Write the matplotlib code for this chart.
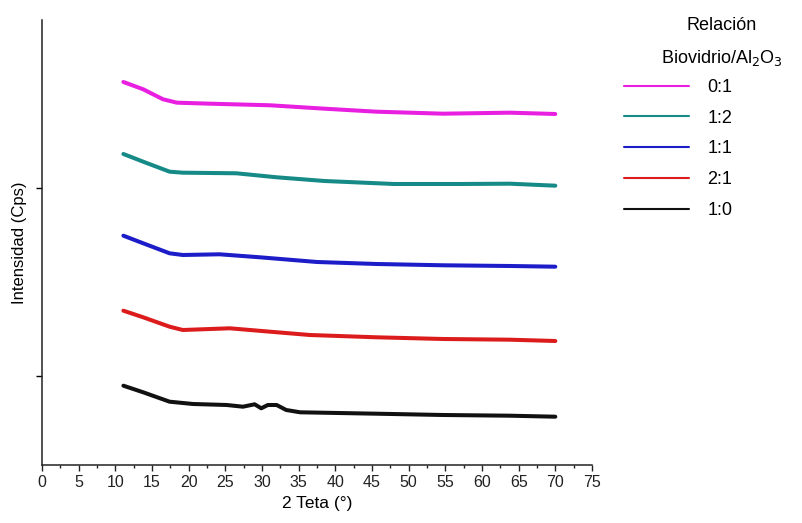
import numpy as np
import matplotlib
matplotlib.use("Agg")
import matplotlib.pyplot as plt
from matplotlib.ticker import MultipleLocator

plt.rcParams['font.family'] = ['Liberation Sans', 'DejaVu Sans']

# 2 theta (deg) / intensity (arb. counts, stacked) for each Biovidrio/Al2O3 ratio
x_01 = [11.1, 13.8, 16.5, 18.4, 22.9, 31.1, 38.5, 45.6, 54.7, 63.8, 70.0]
y_01 = [3830, 3757, 3657, 3623, 3613, 3597, 3563, 3533, 3513, 3523, 3510]

x_12 = [11.1, 13.8, 17.4, 19.2, 26.5, 32.0, 38.5, 48.0, 57.0, 63.8, 70.0]
y_12 = [3110, 3033, 2933, 2923, 2917, 2877, 2840, 2810, 2810, 2813, 2793]

x_11 = [11.1, 13.8, 17.4, 19.2, 24.2, 29.7, 37.5, 45.6, 54.7, 63.8, 70.0]
y_11 = [2293, 2217, 2117, 2100, 2107, 2077, 2030, 2010, 1997, 1990, 1983]

x_21 = [11.1, 13.8, 17.4, 19.2, 25.6, 31.1, 36.5, 45.6, 54.7, 63.8, 70.0]
y_21 = [1543, 1477, 1383, 1350, 1367, 1333, 1300, 1277, 1260, 1253, 1240]

x_10 = [11.1, 13.8, 17.4, 20.6, 25.2, 27.4, 29.0, 29.9, 30.8, 32.0, 33.3, 35.2,
        45.6, 54.7, 63.8, 70.0]
y_10 = [793, 727, 633, 610, 600, 583, 607, 567, 600, 600, 550, 527,
        513, 500, 493, 483]

labels = ["0:1", "1:2", "1:1", "2:1", "1:0"]
colors = ["#e81ee0", "#168a86", "#1c1cc8", "#dc1c1c", "#111111"]

fig = plt.figure(figsize=(8.03, 5.23), dpi=100)
ax = fig.add_axes([0.0523, 0.1109, 0.6849, 0.8509])

series = [(x_01, y_01), (x_12, y_12), (x_11, y_11), (x_21, y_21), (x_10, y_10)]
for (xs, ys), lab, c in zip(series, labels, colors):
    ax.plot(xs, ys, color=c, lw=2.9, label=lab,
            solid_capstyle='round', solid_joinstyle='round')

ax.set_xlim(0, 75)
ax.set_ylim(0, 4450)
ax.xaxis.set_major_locator(MultipleLocator(5))
ax.xaxis.set_minor_locator(MultipleLocator(2.5))
ax.set_yticks([890, 2770])
ax.set_yticklabels([])

for s in ['top', 'right']:
    ax.spines[s].set_visible(False)
for s in ['left', 'bottom']:
    ax.spines[s].set_linewidth(1.1)
    ax.spines[s].set_color('#222222')

ax.tick_params(axis='x', which='major', direction='out', length=4.5, width=1.0,
               labelsize=11.5, pad=3, colors='#222222')
ax.tick_params(axis='x', which='minor', direction='out', length=2.5, width=1.0,
               colors='#222222')
ax.tick_params(axis='y', direction='out', length=4.5, width=1.0)

ax.set_xlabel("2 Teta (°)", fontsize=12.5, labelpad=4)
ax.set_ylabel("Intensidad (Cps)", fontsize=12, labelpad=3)

fig.text(0.899, 0.952, "Relación", ha='center', va='center', fontsize=13)
fig.text(0.899, 0.889, "Biovidrio/Al$_2$O$_3$", ha='center', va='center', fontsize=13)

leg = ax.legend(loc='upper left', bbox_to_anchor=(0.7775, 0.849),
                bbox_transform=fig.transFigure, frameon=False, fontsize=13,
                handlelength=3.6, handletextpad=1.0, labelspacing=0.76,
                borderaxespad=0, borderpad=0)
for line in leg.get_lines():
    line.set_linewidth(1.5)

fig.savefig("out.png", dpi=100)
